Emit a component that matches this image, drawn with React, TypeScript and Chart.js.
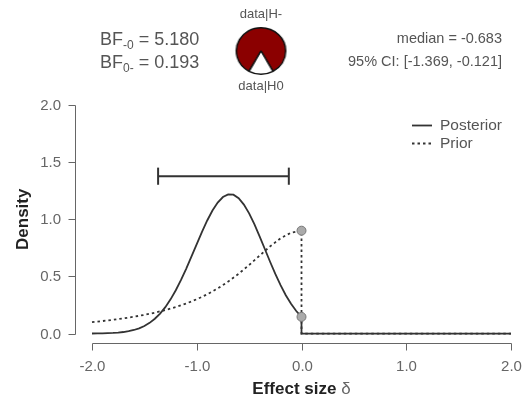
import React, { useEffect, useRef } from 'react';
import { Chart, registerables } from 'chart.js';

Chart.register(...registerables);

// ---------- data ----------
const xTicks = [-2.0, -1.0, 0.0, 1.0, 2.0];
const xTickLabels = ['-2.0', '-1.0', '0.0', '1.0', '2.0'];
const yTicks = [0.0, 0.5, 1.0, 1.5, 2.0];
const yTickLabels = ['0.0', '0.5', '1.0', '1.5', '2.0'];

const posteriorX = [
  -2.0, -1.95, -1.9, -1.85, -1.8, -1.75, -1.7, -1.65, -1.6, -1.55, -1.5, -1.45, -1.4, -1.35,
  -1.3, -1.25, -1.2, -1.15, -1.1, -1.05, -1.0, -0.95, -0.9, -0.85, -0.8, -0.75, -0.7, -0.65,
  -0.6, -0.55, -0.5, -0.45, -0.4, -0.35, -0.3, -0.25, -0.2, -0.15, -0.1, -0.05, 0.0, 0.0, 2.0,
];
const posteriorY = [
  0.0007, 0.0011, 0.002, 0.0033, 0.0054, 0.0086, 0.0136, 0.0208, 0.0314, 0.0462, 0.0666, 0.0938,
  0.1296, 0.175, 0.2313, 0.2994, 0.3791, 0.4695, 0.5689, 0.6749, 0.7834, 0.8902, 0.9895, 1.0767,
  1.1463, 1.1944, 1.2179, 1.215, 1.1847, 1.1289, 1.0514, 0.957, 0.8512, 0.74, 0.6287, 0.5221,
  0.4236, 0.3359, 0.2603, 0.1972, 0.146, 0.0, 0.0,
];

const priorX = [
  -2.0, -1.9, -1.8, -1.7, -1.6, -1.5, -1.4, -1.3, -1.2, -1.1, -1.0, -0.9, -0.8, -0.7, -0.6, -0.5,
  -0.4, -0.3, -0.2, -0.1, 0.0, 0.0, 2.0,
];
const priorY = [
  0.1, 0.1095, 0.1204, 0.1328, 0.1471, 0.1637, 0.183, 0.2056, 0.232, 0.2632, 0.3001, 0.3436,
  0.3949, 0.4547, 0.5234, 0.6002, 0.682, 0.763, 0.8336, 0.8826, 0.9003, 0.0, 0.0,
];

const zeroPointX = [0.0, 0.0];
const zeroPointY = [0.146, 0.9003];

const ciLower = -1.369;
const ciUpper = -0.121;
const ciLevel = 1.377;
const ciCapHalf = 0.075;

const bfLabelTop = '-0';
const bfValueTop = 5.18;
const bfLabelBottom = '0-';
const bfValueBottom = 0.193;
const medianValue = -0.683;
const ciText = '95% CI: [-1.369, -0.121]';

const pieLabels = ['data|H-', 'data|H0'];
const pieValues = [5.18, 1.0];
const pieColors = ['#8b0000', '#ffffff'];

const legendLabels = ['Posterior', 'Prior'];
const xTitle = 'Effect size ';
const xTitleSymbol = 'δ';
const yTitle = 'Density';

const FONT = '"Liberation Sans", Arial, Helvetica, sans-serif';
const LINE = '#333333';
const AXIS = '#666666';
const TXT = '#555555';

const toPts = (xs: number[], ys: number[]) => xs.map((x, i) => ({ x, y: ys[i] }));

function txt(
  ctx: CanvasRenderingContext2D,
  s: string,
  x: number,
  y: number,
  font: string,
  color: string,
  align: CanvasTextAlign = 'left',
  baseline: CanvasTextBaseline = 'alphabetic'
) {
  ctx.font = font;
  ctx.fillStyle = color;
  ctx.textAlign = align;
  ctx.textBaseline = baseline;
  ctx.fillText(s, x, y);
}

const decorPlugin = {
  id: 'decor',
  afterDraw(chart: any) {
    const ctx: CanvasRenderingContext2D = chart.ctx;
    const xs = chart.scales.x;
    const ys = chart.scales.y;
    ctx.save();
    ctx.lineWidth = 1;
    ctx.strokeStyle = AXIS;

    // y axis
    const ax = 75.5;
    ctx.beginPath();
    ctx.moveTo(ax, Math.round(ys.getPixelForValue(yTicks[0])) + 0.5);
    ctx.lineTo(ax, Math.round(ys.getPixelForValue(yTicks[yTicks.length - 1])) + 0.5);
    ctx.stroke();
    yTicks.forEach((t, i) => {
      const py = Math.round(ys.getPixelForValue(t)) + 0.5;
      ctx.beginPath();
      ctx.moveTo(ax - 7, py);
      ctx.lineTo(ax, py);
      ctx.stroke();
      txt(ctx, yTickLabels[i], 61, py, `15px ${FONT}`, AXIS, 'right', 'middle');
    });

    // x axis
    const ay = 343.5;
    ctx.beginPath();
    ctx.moveTo(Math.round(xs.getPixelForValue(xTicks[0])) + 0.5, ay);
    ctx.lineTo(Math.round(xs.getPixelForValue(xTicks[xTicks.length - 1])) + 0.5, ay);
    ctx.stroke();
    xTicks.forEach((t, i) => {
      const px = Math.round(xs.getPixelForValue(t)) + 0.5;
      ctx.beginPath();
      ctx.moveTo(px, ay);
      ctx.lineTo(px, ay + 7);
      ctx.stroke();
      txt(ctx, xTickLabels[i], px, 367, `15px ${FONT}`, AXIS, 'center', 'middle');
    });

    // axis titles
    ctx.font = `bold 17px ${FONT}`;
    const w1 = ctx.measureText(xTitle).width;
    ctx.font = `17px ${FONT}`;
    const w2 = ctx.measureText(xTitleSymbol).width;
    const cx = xs.getPixelForValue(0);
    const sx = cx - (w1 + w2) / 2;
    txt(ctx, xTitle, sx, 394, `bold 17px ${FONT}`, '#222', 'left', 'alphabetic');
    txt(ctx, xTitleSymbol, sx + w1, 394, `17px ${FONT}`, AXIS, 'left', 'alphabetic');

    ctx.save();
    ctx.translate(23, (ys.getPixelForValue(0) + ys.getPixelForValue(2)) / 2);
    ctx.rotate(-Math.PI / 2);
    txt(ctx, yTitle, 0, 0, `bold 17px ${FONT}`, '#222', 'center', 'middle');
    ctx.restore();

    // legend
    ctx.strokeStyle = LINE;
    ctx.lineWidth = 1.8;
    ctx.beginPath();
    ctx.moveTo(412, 125.5);
    ctx.lineTo(432, 125.5);
    ctx.stroke();
    ctx.setLineDash([2.5, 3]);
    ctx.beginPath();
    ctx.moveTo(412, 143.5);
    ctx.lineTo(432, 143.5);
    ctx.stroke();
    ctx.setLineDash([]);
    txt(ctx, legendLabels[0], 440, 126, `15.5px ${FONT}`, TXT, 'left', 'middle');
    txt(ctx, legendLabels[1], 440, 144, `15.5px ${FONT}`, TXT, 'left', 'middle');

    // header: Bayes factors
    const drawBF = (sub: string, val: number, y: number) => {
      let x = 100;
      txt(ctx, 'BF', x, y, `18px ${FONT}`, TXT);
      x += ctx.measureText('BF').width;
      txt(ctx, sub, x, y + 4, `12px ${FONT}`, TXT);
      x += ctx.measureText(sub).width;
      txt(ctx, ` = ${val.toFixed(3)}`, x, y, `18px ${FONT}`, TXT);
    };
    drawBF(bfLabelTop, bfValueTop, 45);
    drawBF(bfLabelBottom, bfValueBottom, 68);

    // header: median & CI
    txt(ctx, `median = ${medianValue.toFixed(3)}`, 502, 43, `14.5px ${FONT}`, TXT, 'right');
    txt(ctx, ciText, 502, 66, `14.5px ${FONT}`, TXT, 'right');

    // pie labels
    txt(ctx, pieLabels[0], 261, 14, `13px ${FONT}`, TXT, 'center', 'middle');
    txt(ctx, pieLabels[1], 261, 86, `13px ${FONT}`, TXT, 'center', 'middle');

    ctx.restore();
  },
};

function PieChart() {
  const ref = useRef<HTMLCanvasElement | null>(null);
  useEffect(() => {
    if (!ref.current) return;
    const total = pieValues.reduce((a, b) => a + b, 0);
    const rotation = -((pieValues[0] / total) * 360) / 2;
    const chart = new Chart(ref.current, {
      type: 'pie',
      data: {
        labels: pieLabels,
        datasets: [
          {
            data: pieValues,
            backgroundColor: pieColors,
            borderColor: '#111111',
            borderWidth: 1.5,
          },
        ],
      },
      options: {
        responsive: false,
        animation: false,
        rotation,
        events: [],
        layout: { padding: 1 },
        plugins: { legend: { display: false }, tooltip: { enabled: false } },
      },
    });
    return () => chart.destroy();
  }, []);
  return (
    <div
      style={{
        position: 'absolute',
        left: 236,
        top: 26,
        width: 50,
        height: 50,
        transform: 'scaleX(1.06)',
      }}
    >
      <canvas ref={ref} width={50} height={50} style={{ display: 'block' }} />
    </div>
  );
}

function MainChart() {
  const ref = useRef<HTMLCanvasElement | null>(null);
  useEffect(() => {
    if (!ref.current) return;
    const chart = new Chart(ref.current, {
      type: 'scatter',
      data: {
        datasets: [
          {
            label: 'zero points',
            data: toPts(zeroPointX, zeroPointY),
            showLine: false,
            pointRadius: 4.5,
            pointBackgroundColor: '#aaaaaa',
            pointBorderColor: '#777777',
            pointBorderWidth: 1,
            order: 0,
            clip: false,
          },
          {
            label: 'Posterior',
            data: toPts(posteriorX, posteriorY),
            showLine: true,
            borderColor: LINE,
            borderWidth: 1.8,
            pointRadius: 0,
            tension: 0,
            order: 1,
            clip: false,
          },
          {
            label: 'CI',
            data: [
              { x: ciLower, y: ciLevel },
              { x: ciUpper, y: ciLevel },
            ],
            showLine: true,
            borderColor: LINE,
            borderWidth: 2,
            pointRadius: 0,
            order: 1,
            clip: false,
          },
          {
            label: 'CI lower cap',
            data: [
              { x: ciLower, y: ciLevel - ciCapHalf },
              { x: ciLower, y: ciLevel + ciCapHalf },
            ],
            showLine: true,
            borderColor: LINE,
            borderWidth: 2,
            pointRadius: 0,
            order: 1,
            clip: false,
          },
          {
            label: 'CI upper cap',
            data: [
              { x: ciUpper, y: ciLevel - ciCapHalf },
              { x: ciUpper, y: ciLevel + ciCapHalf },
            ],
            showLine: true,
            borderColor: LINE,
            borderWidth: 2,
            pointRadius: 0,
            order: 1,
            clip: false,
          },
          {
            label: 'Prior',
            data: toPts(priorX, priorY),
            showLine: true,
            borderColor: LINE,
            borderWidth: 1.8,
            borderDash: [2.5, 3],
            pointRadius: 0,
            tension: 0,
            order: 2,
            clip: false,
          },
        ],
      },
      options: {
        responsive: false,
        animation: false,
        events: [],
        layout: { padding: { left: 92, right: 13, top: 105, bottom: 58 } },
        scales: {
          x: { type: 'linear', min: -2, max: 2, display: false },
          y: { type: 'linear', min: -0.1, max: 2, display: false },
        },
        plugins: { legend: { display: false }, tooltip: { enabled: false } },
      },
      plugins: [decorPlugin],
    });
    return () => chart.destroy();
  }, []);
  return <canvas ref={ref} width={524} height={403} style={{ display: 'block' }} />;
}

export default function App() {
  return (
    <div
      style={{
        position: 'fixed',
        left: 0,
        top: 0,
        width: 524,
        height: 403,
        background: '#ffffff',
        overflow: 'hidden',
      }}
    >
      <MainChart />
      <PieChart />
    </div>
  );
}
